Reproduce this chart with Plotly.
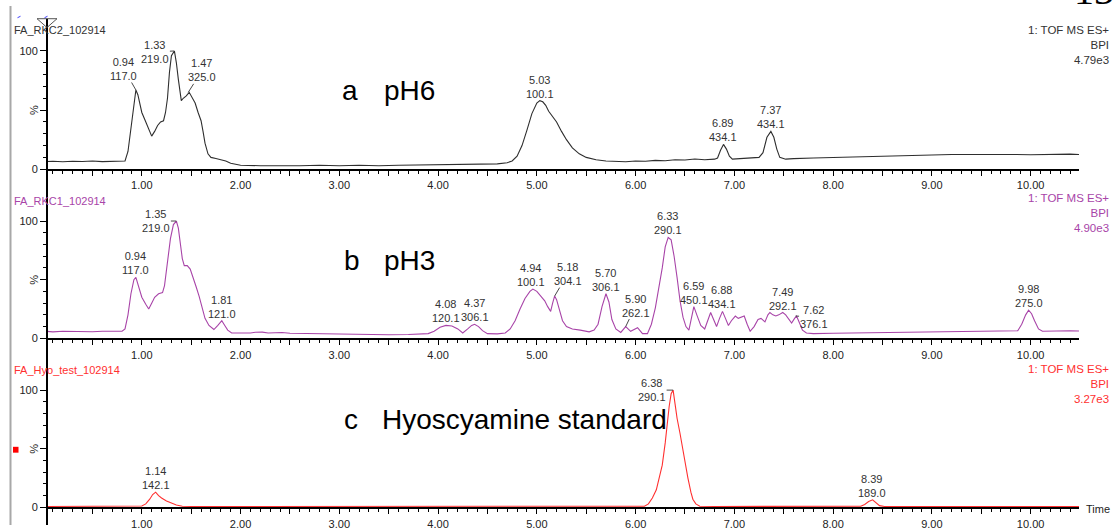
import plotly.graph_objects as go

# ---------------- data ----------------
# Panel a : pH6
a_time = [0.03, 0.1, 0.2, 0.3, 0.4, 0.5, 0.6, 0.7, 0.8, 0.83, 0.86, 0.88, 0.90, 0.92, 0.94, 0.96, 0.98,
          1.00, 1.03, 1.06, 1.10, 1.13, 1.16, 1.19, 1.22, 1.24, 1.26, 1.28, 1.30, 1.33, 1.35, 1.37, 1.40,
          1.42, 1.45, 1.48, 1.51, 1.54, 1.57, 1.60, 1.62, 1.64, 1.67, 1.70, 1.75, 1.80, 1.85, 1.90, 1.95,
          2.0, 2.2, 2.4, 2.6, 2.8, 3.0, 3.2, 3.4, 3.6, 3.8, 4.0, 4.2, 4.4, 4.6, 4.70, 4.75, 4.80, 4.85,
          4.90, 4.95, 5.00, 5.03, 5.06, 5.09, 5.12, 5.16, 5.20, 5.25, 5.30, 5.36, 5.43, 5.50, 5.60, 5.70,
          5.80, 5.90, 6.0, 6.1, 6.2, 6.3, 6.4, 6.5, 6.6, 6.7, 6.8, 6.83, 6.86, 6.89, 6.92, 6.95, 6.98,
          7.05, 7.15, 7.25, 7.29, 7.33, 7.37, 7.40, 7.43, 7.46, 7.52, 7.6, 7.8, 8.0, 8.2, 8.4, 8.6, 8.8,
          9.0, 9.2, 9.4, 9.6, 9.8, 10.0, 10.2, 10.4, 10.49]
a_int = [6.5, 6.8, 6.3, 6.8, 6.5, 6.9, 6.4, 6.7, 6.5, 7, 15, 28, 42, 57, 67, 63, 55,
         48, 42, 36, 28, 32, 37, 40, 41, 48, 60, 82, 96, 100, 90, 76, 58,
         60, 62, 65, 61, 56, 48, 41, 32, 22, 13, 10, 9, 8, 7, 5, 4,
         3.3, 3.0, 2.8, 3.0, 3.3, 3.0, 3.4, 3.0, 3.3, 3.5, 3.8, 4.0, 4.2, 4.5, 5.5, 7, 11, 20,
         33, 47, 56, 58, 57, 54, 49, 44, 40, 32, 25, 18, 13, 10, 8, 7,
         6.8, 6.3, 7.0, 6.8, 7.5, 7.2, 8, 7.8, 8.6, 8.0, 8.5, 9.5, 16, 21, 17, 11, 8.5,
         9, 9.5, 10, 14, 27, 32, 27, 17, 10, 8.5, 9, 9.5, 10, 10.5, 10.8, 11.2, 11.8,
         12, 12.5, 12.5, 12.2, 12.5, 12.3, 12.7, 12.8, 12.5]
a_peak_rt = ["0.94", "1.33", "1.47", "5.03", "6.89", "7.37"]
a_peak_mz = ["117.0", "219.0", "325.0", "100.1", "434.1", "434.1"]

# Panel b : pH3
b_time = [0.03, 0.1, 0.2, 0.3, 0.4, 0.5, 0.6, 0.7, 0.8, 0.83, 0.86, 0.89, 0.92, 0.94, 0.96, 0.98,
          1.00, 1.04, 1.07, 1.10, 1.13, 1.17, 1.21, 1.23, 1.26, 1.29, 1.32, 1.35, 1.37, 1.39, 1.41,
          1.43, 1.46, 1.49, 1.52, 1.55, 1.58, 1.61, 1.64, 1.68, 1.73, 1.77, 1.81, 1.84, 1.87, 1.91,
          2.0, 2.1, 2.15, 2.22, 2.28, 2.35, 2.42, 2.5, 2.7, 2.9, 3.1, 3.3, 3.5, 3.7, 3.9, 3.96, 4.02,
          4.08, 4.14, 4.20, 4.25, 4.30, 4.34, 4.37, 4.41, 4.45, 4.50, 4.6, 4.68, 4.73, 4.78, 4.83,
          4.88, 4.93, 4.96, 5.00, 5.04, 5.08, 5.11, 5.14, 5.16, 5.18, 5.20, 5.23, 5.26, 5.30, 5.36,
          5.44, 5.53, 5.58, 5.62, 5.66, 5.70, 5.73, 5.76, 5.80, 5.85, 5.90, 5.95, 6.02, 6.07, 6.12,
          6.16, 6.20, 6.24, 6.27, 6.30, 6.33, 6.36, 6.39, 6.42, 6.45, 6.48, 6.51, 6.54, 6.57, 6.59,
          6.62, 6.66, 6.70, 6.73, 6.76, 6.79, 6.82, 6.85, 6.88, 6.91, 6.94, 6.97, 7.01, 7.04, 7.07,
          7.10, 7.13, 7.16, 7.20, 7.24, 7.27, 7.31, 7.34, 7.36, 7.39, 7.42, 7.45, 7.49, 7.52, 7.55,
          7.58, 7.61, 7.63, 7.66, 7.69, 7.73, 7.8, 8.0, 8.2, 8.4, 8.6, 8.8, 9.0, 9.2, 9.4, 9.6, 9.8,
          9.87, 9.91, 9.95, 9.98, 10.01, 10.04, 10.08, 10.12, 10.2, 10.3, 10.4, 10.49]
b_int = [6, 5.5, 6, 5.8, 6, 5.6, 6, 5.8, 6, 8, 20, 38, 50, 52, 46, 40,
         35, 29, 25, 30, 35, 38, 39, 45, 64, 85, 97, 100, 94, 82, 68,
         62, 62, 59, 52, 44, 36, 26, 17, 11, 7.5, 11, 15, 11, 7, 4.5,
         4.3, 4.5, 5.2, 5.3, 4.5, 5.0, 5.0, 4.3, 4.0, 3.8, 3.5, 3.0, 3.0, 3.2, 4, 6, 9.5,
         11, 10.5, 8, 4.5, 8, 11, 12, 10, 6.5, 4, 3.8, 4.5, 8, 15, 25,
         34, 40, 42, 40, 36, 32, 27, 23, 30, 36, 33, 24, 15, 10, 8,
         7, 5.5, 7, 12, 27, 38, 31, 16, 8, 5, 10, 6, 9, 4, 4,
         12, 26, 44, 60, 78, 86, 84, 70, 52, 32, 18, 10, 7, 20, 27,
         20, 11, 8, 15, 22, 16, 10, 17, 23, 17, 11, 15, 19, 17, 18,
         19, 12, 6, 10, 16, 17, 14, 20, 22, 20, 19, 20, 22, 20, 16,
         13, 17, 19, 13, 7, 4.5, 4, 4.3, 4.5, 4.6, 5, 5.3, 5.5, 5.8, 5.6, 6, 6,
         6.5, 12, 20, 24, 21, 15, 8, 6, 6.3, 6.2, 6.5, 6.3]
b_peak_rt = ["0.94", "1.35", "1.81", "4.08", "4.37", "4.94", "5.18", "5.70", "5.90", "6.33",
             "6.59", "6.88", "7.49", "7.62", "9.98"]
b_peak_mz = ["117.0", "219.0", "121.0", "120.1", "306.1", "100.1", "304.1", "306.1", "262.1", "290.1",
             "450.1", "434.1", "292.1", "376.1", "275.0"]

# Panel c : Hyoscyamine standard
c_time = [0.03, 0.3, 0.6, 0.9, 1.0, 1.04, 1.08, 1.11, 1.14, 1.17, 1.20, 1.25, 1.30, 1.35, 1.41, 1.5,
          2.0, 3.0, 4.0, 5.0, 6.0, 6.09, 6.13, 6.17, 6.21, 6.24, 6.27, 6.30, 6.32, 6.34, 6.36, 6.38,
          6.40, 6.42, 6.45, 6.47, 6.50, 6.53, 6.56, 6.58, 6.61, 6.65, 6.8, 7.5, 8.2, 8.28, 8.32, 8.36,
          8.40, 8.43, 8.47, 8.52, 9.0, 10.0, 10.49]
c_int = [0.8, 0.8, 0.8, 0.9, 1.2, 3, 7, 11, 13, 10, 8, 5.5, 3.5, 2, 1, 0.8,
         0.8, 0.8, 0.8, 0.8, 0.8, 1.0, 3, 8, 15, 25, 36, 55, 72, 86, 97, 100,
         88, 76, 63, 53, 38, 25, 13, 7, 3, 1, 0.8, 0.8, 0.8, 1.0, 2.5, 5,
         6.5, 4.5, 1.5, 0.8, 0.8, 0.8, 0.8]
c_peak_rt = ["1.14", "6.38", "8.39"]
c_peak_mz = ["142.1", "290.1", "189.0"]

titles = ["FA_RKC2_102914", "FA_RKC1_102914", "FA_Hyo_test_102914"]
headers = ["1: TOF MS ES+<br>BPI<br>4.79e3", "1: TOF MS ES+<br>BPI<br>4.90e3", "1: TOF MS ES+<br>BPI<br>3.27e3"]
letters = ["a", "b", "c"]
conditions = ["pH6", "pH3", "Hyoscyamine standard"]
x_tick_values = [i * 0.5 for i in range(0, 22)]

# ---------------- styling / layout ----------------
W, H = 1115, 531
FONT = "Arial, Liberation Sans, sans-serif"


def px(x):
    return x / W


def py(y):
    return 1 - y / H


X0, X1 = 47, 1079
XR = [0.04, 10.49]

panels = [
    dict(time=a_time, inten=a_int, rts=a_peak_rt, mzs=a_peak_mz, color="#2e2e2e", tcolor="#333333",
         zero=167, top=46, title_y=25, header_y=40, big_y=86, letter_x=340, cond_x=382),
    dict(time=b_time, inten=b_int, rts=b_peak_rt, mzs=b_peak_mz, color="#a844a8", tcolor="#a844a8",
         zero=340, top=220, title_y=199, header_y=212, big_y=260, letter_x=342, cond_x=382),
    dict(time=c_time, inten=c_int, rts=c_peak_rt, mzs=c_peak_mz, color="#ff3030", tcolor="#ff3030",
         zero=513, top=393, title_y=372, header_y=387, big_y=423, letter_x=342, cond_x=380),
]

# leader-line offsets (pixels) for labels not placed straight above their peak
LEADERS = {
    (0, "0.94"): (-12, -21), (0, "1.33"): (-19, 1), (0, "1.47"): (14, -22),
    (1, "1.35"): (-20, 0), (1, "5.18"): (13, -22), (1, "5.90"): (10, -21), (1, "7.62"): (18, 1),
    (2, "6.38"): (-21, 0),
}

fig = go.Figure()
annotations = []
shapes = []
layout_axes = {}

for i, p in enumerate(panels):
    n = "" if i == 0 else str(i + 1)
    xa, ya = "x" + n, "y" + n
    fig.add_trace(go.Scatter(x=p["time"], y=p["inten"], mode="lines", xaxis=xa, yaxis=ya,
                             line=dict(color=p["color"], width=1.1), hoverinfo="skip"))
    layout_axes["xaxis" + n] = dict(
        domain=[px(X0), px(X1)], range=XR, anchor=ya, showgrid=False, zeroline=False,
        showline=True, linecolor="black", linewidth=2, ticks="outside", ticklen=5, tickwidth=1,
        tickcolor="black", tickvals=x_tick_values,
        ticktext=[f"{v:.2f}" if (v == int(v) and v >= 1) else "" for v in x_tick_values],
        tickfont=dict(family=FONT, size=11, color="#222222"),
        minor=dict(dtick=0.1, tick0=0, ticklen=3, ticks="outside", tickcolor="black", showgrid=False),
        fixedrange=True)
    layout_axes["yaxis" + n] = dict(
        domain=[py(p["zero"]), py(p["top"])], range=[0, 100], anchor=xa, showgrid=False,
        zeroline=False, showline=False, ticks="outside", ticklen=6, tickwidth=1, tickcolor="black",
        tickvals=[0, 50, 100], ticktext=["0", "", "100"],
        tickfont=dict(family=FONT, size=11, color="#222222"),
        minor=dict(dtick=10, ticklen=3, ticks="outside", tickcolor="black", showgrid=False),
        fixedrange=True)

    # "%" label
    annotations.append(dict(xref="paper", yref="paper", x=px(34), y=py((p["zero"] + p["top"]) / 2),
                            text="%", textangle=-90, showarrow=False,
                            font=dict(family=FONT, size=11, color="#222222"),
                            xanchor="center", yanchor="middle"))
    # run title
    annotations.append(dict(xref="paper", yref="paper", x=px(12), y=py(p["title_y"]), text=titles[i],
                            showarrow=False, xanchor="left", yanchor="middle",
                            font=dict(family=FONT, size=11, color=p["tcolor"])))
    # header at right
    annotations.append(dict(xref="paper", yref="paper", x=px(1111), y=py(p["header_y"]), text=headers[i],
                            showarrow=False, xanchor="right", yanchor="middle", align="right",
                            font=dict(family=FONT, size=11.5, color=p["tcolor"])))
    # big letter + condition
    annotations.append(dict(xref="paper", yref="paper", x=px(p["letter_x"]), y=py(p["big_y"]),
                            text=letters[i], showarrow=False, xanchor="left", yanchor="middle",
                            font=dict(family=FONT, size=28, color="black")))
    annotations.append(dict(xref="paper", yref="paper", x=px(p["cond_x"]), y=py(p["big_y"]),
                            text=conditions[i], showarrow=False, xanchor="left", yanchor="middle",
                            font=dict(family=FONT, size=28, color="black")))
    # peak labels (anchored at the peak apex found in the data)
    for rt, mz in zip(p["rts"], p["mzs"]):
        t = float(rt)
        near = [v for tt, v in zip(p["time"], p["inten"]) if abs(tt - t) <= 0.04]
        apex = max(near)
        lab = f"{rt}<br>{mz}"
        f = dict(family=FONT, size=11, color="#333333")
        if (i, rt) in LEADERS:
            dx, dy = LEADERS[(i, rt)]
            annotations.append(dict(xref=xa, yref=ya, x=t, y=apex, text=lab, showarrow=True,
                                    ax=dx, ay=dy, arrowhead=0, arrowwidth=0.9, arrowcolor="#333333",
                                    standoff=0, startstandoff=0, font=f, align="center", borderpad=0))
        else:
            annotations.append(dict(xref=xa, yref=ya, x=t, y=apex, text=lab, showarrow=False,
                                    xanchor="center", yanchor="bottom", yshift=0, font=f,
                                    align="center", borderpad=0))

# "Time" label
annotations.append(dict(xref="paper", yref="paper", x=px(1084), y=py(515), text="Time", showarrow=False,
                        xanchor="left", yanchor="middle", font=dict(family=FONT, size=11, color="#222222")))
# cut-off page number at top right
annotations.append(dict(xref="paper", yref="paper", x=px(1116), y=py(9), text="13", showarrow=False,
                        xanchor="right", yanchor="bottom",
                        font=dict(family="Liberation Serif, serif", size=40, color="black")))

# continuous vertical axis line on the left of the plots
shapes.append(dict(type="line", xref="paper", yref="paper", x0=px(47), x1=px(47), y0=0, y1=py(13),
                   line=dict(color="black", width=2)))
# left window border
shapes.append(dict(type="line", xref="paper", yref="paper", x0=px(10.5), x1=px(10.5), y0=0, y1=1,
                   line=dict(color="#a8a8a8", width=2)))
# marker triangle at top
shapes.append(dict(type="path", xref="paper", yref="paper",
                   path=f"M {px(37)} {py(13)} L {px(57)} {py(13)} L {px(47)} {py(22)} Z",
                   line=dict(color="#555555", width=1), fillcolor="rgba(0,0,0,0)"))
# small blue ticks at top
for bx in (19, 46):
    shapes.append(dict(type="line", xref="paper", yref="paper", x0=px(bx - 1.5), x1=px(bx + 1.5),
                       y0=py(12), y1=py(10.5), line=dict(color="#4040ff", width=1)))
# red square marker on the left of panel c
shapes.append(dict(type="rect", xref="paper", yref="paper", x0=px(13), x1=px(18.5), y0=py(457), y1=py(451),
                   line=dict(width=0), fillcolor="#ff0000"))

fig.update_layout(width=W, height=H, margin=dict(l=0, r=0, t=0, b=0), showlegend=False,
                  paper_bgcolor="white", plot_bgcolor="white", annotations=annotations, shapes=shapes,
                  **layout_axes)

fig.write_html("out.html", config={"displayModeBar": False},
               post_script="document.body.style.margin='0px';document.body.style.overflow='hidden';")
